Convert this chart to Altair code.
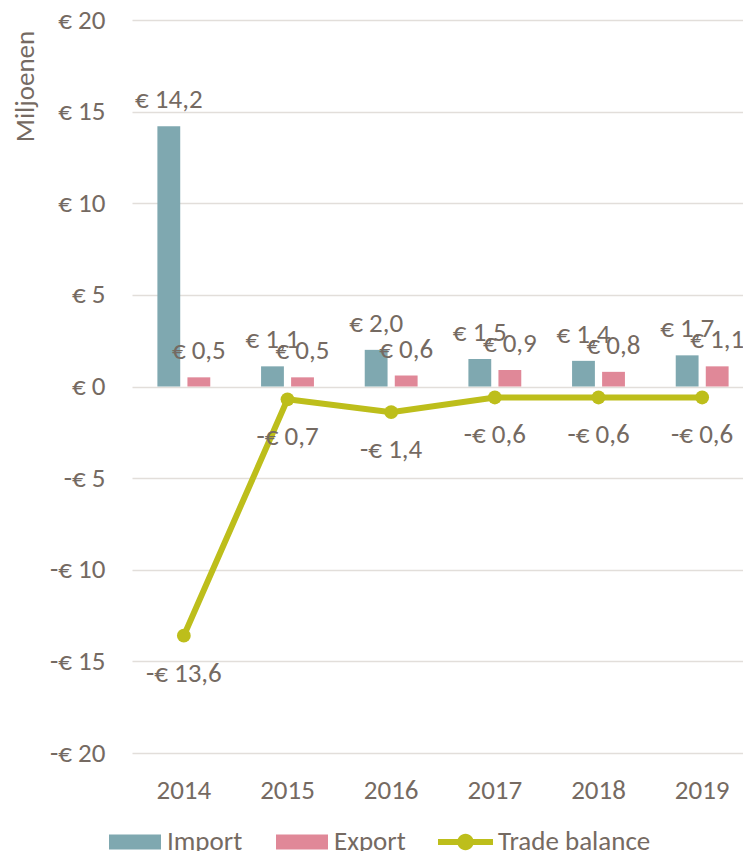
import altair as alt
import pandas as pd

years = ["2014", "2015", "2016", "2017", "2018", "2019"]
import_vals = [14.2, 1.1, 2.0, 1.5, 1.4, 1.7]
export_vals = [0.5, 0.5, 0.6, 0.9, 0.8, 1.1]
balance_vals = [-13.6, -0.7, -1.4, -0.6, -0.6, -0.6]
y_ticks = [-20, -15, -10, -5, 0, 5, 10, 15, 20]

FONT = "Carlito, Lato"
FS = 27
TEXT = "#756A62"
GRID = "#E2DEDA"
C_IMP = "#7FA8B0"
C_EXP = "#E08898"
C_BAL = "#BDBE1B"


def eur(v):
    s = "€ " + f"{abs(v):.1f}".replace(".", ",")
    return "-" + s if v < 0 else s


bar_rows = []
for yr, a, b in zip(years, import_vals, export_vals):
    bar_rows.append({"year": yr, "series": "Import", "value": a, "label": eur(a)})
    bar_rows.append({"year": yr, "series": "Export", "value": b, "label": eur(b)})
bars_df = pd.DataFrame(bar_rows)
bal_df = pd.DataFrame({
    "year": years,
    "series": ["Trade balance"] * len(years),
    "value": balance_vals,
    "label": [eur(v) for v in balance_vals],
})

x_enc = alt.X(
    "year:N", sort=years,
    scale=alt.Scale(paddingInner=0.49, paddingOuter=0.245, range=[0, 622]),
    axis=alt.Axis(title=None, labelAngle=0, ticks=False, domain=False, grid=False,
                  labelPadding=24, labelFontSize=FS, labelColor=TEXT, labelFont=FONT),
)
y_enc = alt.Y(
    "value:Q",
    scale=alt.Scale(domain=[-20, 20], nice=False, zero=False),
    axis=alt.Axis(
        values=y_ticks, title="Miljoenen", ticks=False, domain=False,
        grid=True, gridColor=GRID, gridWidth=1.6,
        labelExpr="datum.value < 0 ? '-€ ' + abs(datum.value) : '€ ' + datum.value",
        labelPadding=27, labelFontSize=FS, labelColor=TEXT, labelFont=FONT,
        titleFontSize=FS, titleFontWeight="normal", titleColor=TEXT, titleFont=FONT,
        titleX=-107, titleY=66, titleAngle=270, titleAlign="center", titleBaseline="middle",
    ),
)
xoff = alt.XOffset("series:N", sort=["Import", "Export"],
                   scale=alt.Scale(paddingInner=0.24, paddingOuter=0))

bars = alt.Chart(bars_df).mark_bar().encode(
    x=x_enc, y=y_enc, xOffset=xoff,
    color=alt.Color(
        "series:N",
        scale=alt.Scale(domain=["Import", "Export"], range=[C_IMP, C_EXP]),
        legend=alt.Legend(
            title=None, orient="none", legendX=-23, legendY=796, direction="horizontal",
            symbolType="M-1,-0.29H1V0.29H-1Z", symbolSize=2704, symbolStrokeWidth=0,
            symbolOpacity=1, labelFontSize=FS, labelColor=TEXT, labelFont=FONT,
            columnPadding=33, labelOffset=6,
        ),
    ),
)
bar_labels = alt.Chart(bars_df).mark_text(
    dy=-26, fontSize=FS, color=TEXT, font=FONT, baseline="middle"
).encode(x=x_enc, y=y_enc, xOffset=xoff, text="label:N")

line = alt.Chart(bal_df).mark_line(color=C_BAL, strokeWidth=6).encode(x=x_enc, y=y_enc)
points = alt.Chart(bal_df).mark_circle(size=190, opacity=1).encode(
    x=x_enc, y=y_enc,
    color=alt.Color(
        "series:N",
        scale=alt.Scale(domain=["Trade balance"], range=[C_BAL]),
        legend=alt.Legend(
            title=None, orient="none", legendX=306, legendY=794.5,
            symbolType=("M-1,-0.11H-0.28V0.11H-1Z M0.28,-0.11H1V0.11H0.28Z "
                        "M-0.3,0A0.3,0.3 0 1,1 0.3,0A0.3,0.3 0 1,1 -0.3,0Z"),
            symbolSize=3025, symbolStrokeWidth=0, symbolOpacity=1,
            labelFontSize=FS, labelColor=TEXT, labelFont=FONT, labelOffset=5,
        ),
    ),
)
bal_labels = alt.Chart(bal_df).mark_text(
    dy=38, fontSize=FS, color=TEXT, font=FONT, baseline="middle"
).encode(x=x_enc, y=y_enc, text="label:N")

chart = alt.layer(bars, bar_labels, line, points, bal_labels).resolve_scale(
    color="independent"
).properties(
    width=611, height=733,
    autosize=alt.AutoSizeParams(type="none"),
    padding={"left": 124, "top": 12, "right": 0, "bottom": 98},
).configure_view(stroke=None)

chart.save("out.html", embed_options={"renderer": "svg", "actions": False})
